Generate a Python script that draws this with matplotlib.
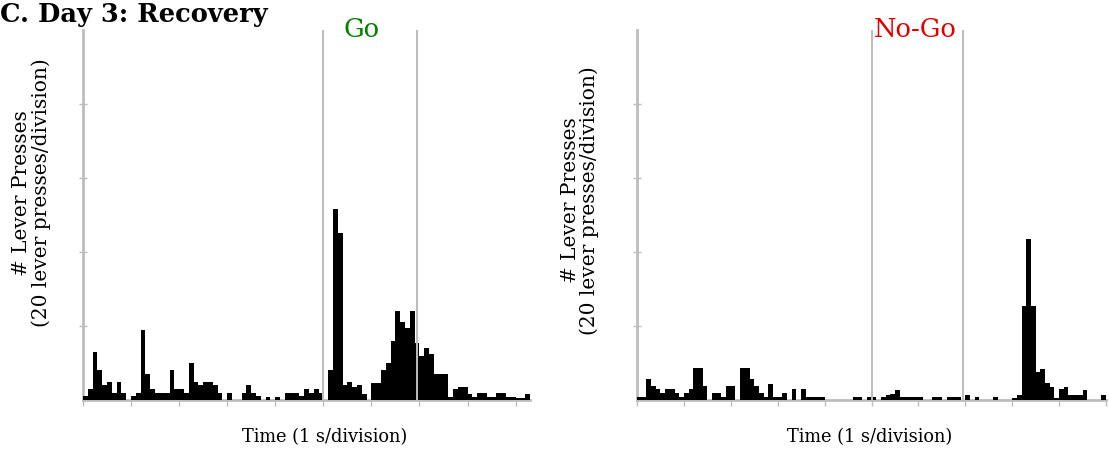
import numpy as np
import matplotlib.pyplot as plt

plt.rcParams['font.family'] = ['DejaVu Serif']

# lever presses per 0.1 s bin, starting 5 s before the cue
go_counts = [1, 3, 13, 8, 4, 5, 2, 5, 2, 0,
             1, 2, 19, 7, 3, 2, 2, 2, 8, 3,
             3, 2, 10, 5, 4, 5, 5, 4, 2, 0,
             2, 0, 0, 2, 4, 2, 1, 0, 0.7, 0,
             0.7, 0, 2, 2, 2, 1, 3, 2, 3, 2,
             0, 8, 51.5, 45, 4, 5, 3.5, 4, 1.5, 0,
             4.5, 4.5, 8, 10, 16, 24, 21, 19.5, 24, 15.5,
             12, 14, 12.5, 7, 7, 7, 0.8, 3, 3.5, 3.5,
             1.5, 0.8, 1.8, 1.8, 0.8, 0.8, 1.8, 1.8, 0.8, 0.8,
             0.6, 0.6, 1.5]
nogo_counts = [0.8, 0.8, 5.8, 3.8, 2.9, 1.8, 2.9, 2.9, 1.8, 0.8,
               1.8, 2.9, 8.6, 8.6, 3.8, 0, 1.8, 1.8, 0.8, 3.8,
               3.8, 0, 8.6, 8.6, 5.8, 3.8, 1.8, 0.8, 4.4, 0.8,
               0.8, 1.8, 0, 2.9, 0, 2.9, 0.7, 0.7, 0.7, 0.7,
               0, 0, 0, 0, 0, 0, 0.8, 0.8, 0, 0.8,
               0.8, 0, 0.8, 1.4, 1.5, 2.8, 0.7, 0.7, 0.7, 0.7,
               0.7, 0, 0, 0.8, 0.8, 0, 0.8, 0.8, 0.8, 0,
               1.4, 0, 0.8, 0, 0, 0, 0.8, 0, 0, 0,
               0.6, 1.4, 25.4, 43.4, 25.4, 7.7, 8.3, 4.5, 3.4, 0.6,
               2.9, 3.4, 1.4, 1.4, 1.4, 2.7, 0, 0, 0, 1.4]
bin_w = 0.1
t_start = -5
markers = [0, 1.95]
x_ends = [4.3, 5]
titles = ['Go', 'No-Go']
title_x = [0.79, 0.93]
title_colors = ['#008000', '#e00000']

fig = plt.figure(figsize=(11.09, 4.49), dpi=100)
ax_left = fig.add_axes([83/1109, 49/449, 447/1109, 370/449])
ax_right = fig.add_axes([637/1109, 49/449, 469/1109, 370/449])

gray = '#bdbdbd'
for i, (ax, counts) in enumerate([(ax_left, go_counts), (ax_right, nogo_counts)]):
    t = t_start + bin_w * np.arange(len(counts))
    ax.bar(t, counts, width=bin_w, align='edge', color='black', linewidth=0, zorder=3)
    for m in markers:
        ax.axvline(m, color=gray, lw=1.4, zorder=4)
    ax.set_xlim(t_start, x_ends[i])
    ax.set_ylim(0, 100)
    ax.set_xticks(np.arange(t_start, x_ends[i] + 0.01, 1))
    ax.set_yticks([20, 40, 60, 80])
    ax.set_xticklabels([])
    ax.set_yticklabels([])
    ax.tick_params(axis='x', direction='out', length=4, color=gray, width=1)
    ax.tick_params(axis='y', direction='inout', length=6, color=gray, width=1)
    for s in ['top', 'right']:
        ax.spines[s].set_visible(False)
    for s in ['left', 'bottom']:
        ax.spines[s].set_color(gray)
        ax.spines[s].set_linewidth(2)
    ax.set_xlabel('Time (1 s/division)', fontsize=12.8)
    ax.set_ylabel('# Lever Presses\n(20 lever presses/division)', fontsize=14.5,
                  linespacing=1.0)
    ax.text(title_x[i], 98, titles[i], color=title_colors[i],
            fontsize=18.5, ha='center', va='baseline')

ax_left.xaxis.set_label_coords((325 - 83) / 447, -0.075)
ax_right.xaxis.set_label_coords((870 - 637) / 469, -0.075)
ax_left.yaxis.set_label_coords(-0.072, 0.56)
ax_right.yaxis.set_label_coords(-0.08, 0.54)

fig.text(0.0, 1 - 22/449, 'C. Day 3: Recovery', fontsize=18.5, fontweight='bold',
         ha='left', va='baseline')

fig.savefig('out.png', dpi=100)
